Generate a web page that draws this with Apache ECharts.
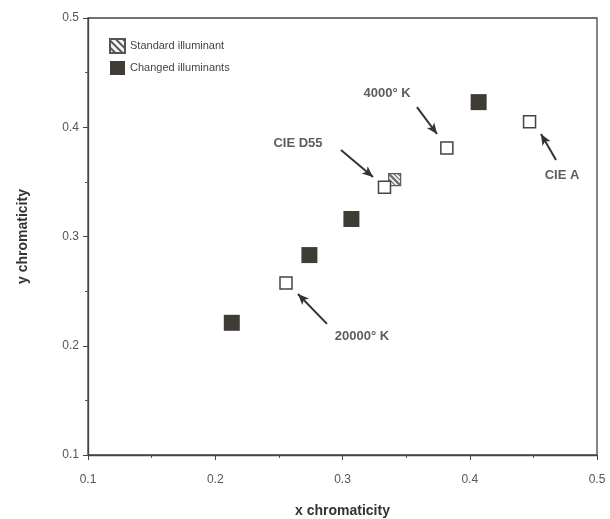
<!DOCTYPE html>
<html>
<head>
<meta charset="utf-8">
<title>chromaticity</title>
<script src="https://cdn.jsdelivr.net/npm/echarts@6/dist/echarts.min.js"></script>
<style>
  body { margin: 0; background: #fff; }
</style>
</head>
<body>
<div id="main" style="width:610px;height:519px;"></div>
<script type="text/javascript">
// values
var standardPts = [[0.341, 0.352]];
var changedPts = [[0.213, 0.221], [0.274, 0.283], [0.307, 0.316], [0.407, 0.423]];
var referencePts = [[0.2556, 0.2574], [0.333, 0.345], [0.382, 0.381], [0.447, 0.405]];
var axisTicks = [0.1, 0.2, 0.3, 0.4, 0.5];

// arrow notes: label centre, arrow start, arrow end (data units)
var noteText = ['20000° K', 'CIE D55', '4000° K', 'CIE A'];
var noteAt = [[0.3153, 0.2089], [0.265, 0.3856], [0.335, 0.4314], [0.4725, 0.3563]];
var noteFrom = [[0.2878, 0.220], [0.2988, 0.3792], [0.3585, 0.4185], [0.4678, 0.370]];
var noteTo = [[0.265, 0.2474], [0.324, 0.3545], [0.3743, 0.3938], [0.456, 0.3938]];

var myChart = echarts.init(document.getElementById('main'));

// diagonal hatching for the standard illuminant
var hatchDecal = {
    symbol: 'rect',
    color: '#5a5a5a',
    dashArrayX: [1, 0],
    dashArrayY: [1.5, 2.5],
    rotation: Math.PI / 4
};
var hatchPath = 'path://M0,0L1.6,0L12,10.4L12,12L10.4,12L0,1.6Z' +
    'M0,4.2L7.8,12L6.2,12L0,5.8Z' +
    'M4.2,0L5.8,0L12,6.2L12,7.8Z' +
    'M0,8.4L3.6,12L2,12L0,10Z' +
    'M8.4,0L10,0L12,2L12,3.6Z';

var axisCommon = {
    type: 'value',
    min: 0.1,
    max: 0.5,
    interval: 0.1,
    nameLocation: 'middle',
    nameTextStyle: { fontFamily: 'Liberation Sans', fontWeight: 'bold', fontSize: 14, color: '#333' },
    axisLine: { show: true, lineStyle: { color: '#444', width: 1.3 } },
    axisTick: { show: true, inside: false, length: 5, lineStyle: { color: '#444' } },
    minorTick: { show: true, splitNumber: 2, length: 3, lineStyle: { color: '#555' } },
    splitLine: { show: false },
    axisLabel: {
        fontFamily: 'Liberation Sans', fontSize: 12, color: '#555',
        formatter: function (v) { return axisTicks.indexOf(Math.round(v * 10) / 10) >= 0 ? v.toFixed(1) : ''; }
    }
};

var option = {
    animation: false,
    grid: {
        left: 88, right: 13, top: 18, bottom: 64,
        outerBoundsMode: 'none',
        show: true, borderColor: '#444', borderWidth: 1.3
    },
    legend: {
        orient: 'vertical',
        left: 104, top: 33,
        itemWidth: 15, itemHeight: 14, itemGap: 7,
        icon: 'rect',
        data: ['Standard illuminant', 'Changed illuminants'],
        textStyle: { fontFamily: 'Liberation Sans', fontSize: 11, color: '#444' }
    },
    xAxis: Object.assign({}, axisCommon, {
        name: 'x chromaticity', nameGap: 49,
        axisLabel: Object.assign({}, axisCommon.axisLabel, { margin: 19 })
    }),
    yAxis: Object.assign({}, axisCommon, {
        name: 'y chromaticity', nameGap: 58,
        axisLabel: Object.assign({}, axisCommon.axisLabel, { margin: 9 })
    }),
    series: [
        {
            name: 'Standard illuminant',
            type: 'scatter',
            symbol: 'rect',
            symbolSize: 12,
            data: standardPts,
            itemStyle: { color: '#f6f6f6', decal: hatchDecal, borderColor: '#555', borderWidth: 1.2, opacity: 1 },
            z: 2
        },
        {
            name: 'standard hatch',
            type: 'scatter',
            symbol: hatchPath,
            symbolSize: 12,
            silent: true,
            data: standardPts,
            itemStyle: { color: '#6a6a6a', opacity: 1 },
            z: 2
        },
        {
            name: 'Changed illuminants',
            type: 'scatter',
            symbol: 'rect',
            symbolSize: 16,
            data: changedPts,
            itemStyle: { color: '#3f3c36', opacity: 1 },
            z: 2
        },
        {
            name: 'reference',
            type: 'scatter',
            symbol: 'rect',
            symbolSize: 12,
            data: referencePts,
            itemStyle: { color: '#ffffff', borderColor: '#444', borderWidth: 1.5, opacity: 1 },
            z: 3,
            markLine: {
                silent: true,
                symbol: ['none', 'arrow'],
                symbolSize: [7, 11],
                label: { show: false },
                lineStyle: { color: '#333', width: 2, type: 'solid' },
                data: noteFrom.map(function (p, i) {
                    return [{ coord: p }, { coord: noteTo[i] }];
                })
            }
        },
        {
            name: 'notes',
            type: 'scatter',
            symbolSize: 1,
            itemStyle: { color: 'rgba(0,0,0,0)' },
            data: noteAt.map(function (p, i) { return [p[0], p[1], noteText[i]]; }),
            label: {
                show: true,
                position: 'inside',
                formatter: function (p) { return p.value[2]; },
                fontFamily: 'Liberation Sans', fontWeight: 'bold', fontSize: 13, color: '#333'
            },
            z: 4
        }
    ]
};

myChart.setOption(option);
</script>
</body>
</html>
